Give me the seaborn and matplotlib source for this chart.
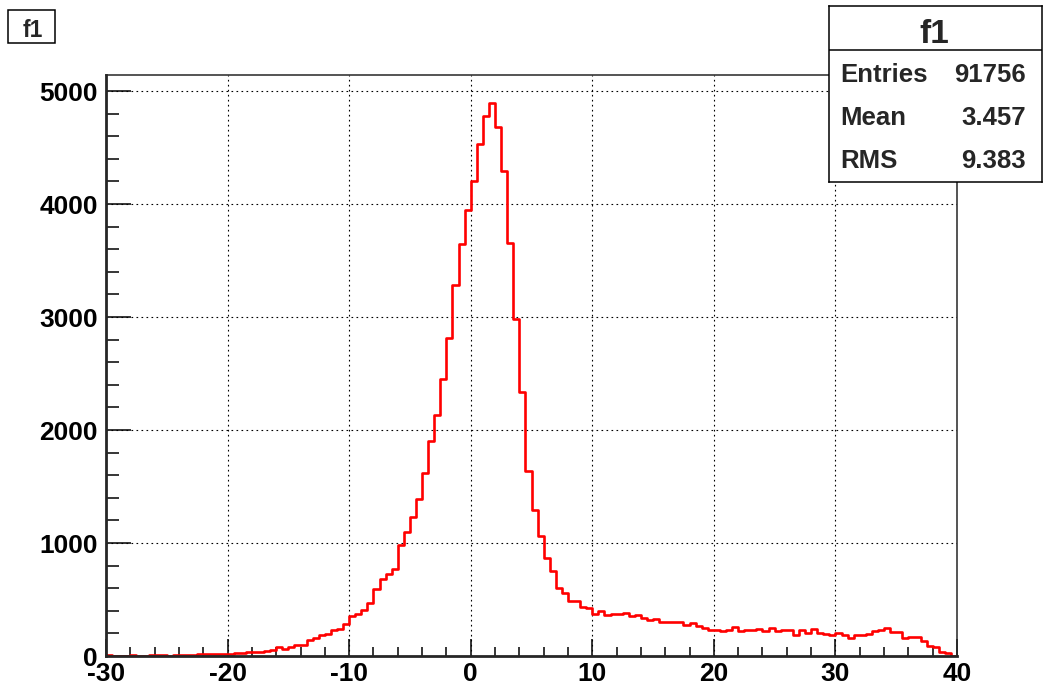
import numpy as np
import pandas as pd
import matplotlib
matplotlib.use('Agg')
import matplotlib.pyplot as plt
import seaborn as sns
from matplotlib.ticker import MultipleLocator
from matplotlib.patches import Rectangle

sns.set_style('ticks')
# ROOT-like look: bold Helvetica-ish text, inward ticks
plt.rcParams['font.family'] = ['Liberation Sans', 'DejaVu Sans']
plt.rcParams['font.weight'] = 'bold'
plt.rcParams['axes.unicode_minus'] = False

# histogram f1, 140 bins of width 0.5 from -30 to 40
x_min = -30
x_max = 40
bin_width = 0.5

counts_far_left = [8, 3, 2, 3, 10, 3, 2, 10, 11, 9, 3, 11, 12, 13, 13, 15,
                   20, 18, 21, 22, 22, 24, 30, 33, 35, 38]            # -30 .. -17
counts_left = [42, 50, 80, 65, 80, 97, 100, 144, 162, 183, 197, 233, 236,
               286, 350, 374, 409, 471, 595, 678, 730, 772]            # -17 .. -6
counts_rise = [985, 1100, 1233, 1390, 1617, 1907, 2133, 2450, 2813, 3283,
               3650, 3950]                                             # -6 .. 0
counts_peak = [4200, 4527, 4783, 4893, 4683, 4293, 3657, 2983, 2340, 1640,
               1290, 1060, 867, 750]                                   # 0 .. 7
counts_tail = [603, 558, 484, 490, 434, 422, 369, 395, 363, 369, 372, 380,
               351, 360, 336, 322, 330, 301, 298, 301, 298, 274, 289, 268,
               248, 230, 233, 224, 227, 260, 224, 230]                 # 7 .. 23
counts_end = [227, 242, 221, 251, 221, 233, 233, 186, 227, 206, 242, 201,
              198, 183, 201, 183, 162, 189, 189, 198, 221, 233, 251, 209,
              209, 162, 165, 165, 130, 91, 83, 32, 27, 3]              # 23 .. 40

stat_names = ['Entries', 'Mean', 'RMS']
stat_values = ['91756', '3.457', '9.383']
hist_name = 'f1'

counts = counts_far_left + counts_left + counts_rise + counts_peak + counts_tail + counts_end
edges = np.arange(x_min, x_max + bin_width / 2, bin_width)
centers = edges[:-1] + bin_width / 2
df = pd.DataFrame({'x': centers, 'n': counts})

W, H = 1052, 696
fig = plt.figure(figsize=(W / 100, H / 100), dpi=100)
ax = fig.add_axes([106 / W, 1 - 656 / H, 851 / W, 581 / H])

sns.histplot(data=df, x='x', weights='n', bins=edges.tolist(), element='step',
             fill=False, color='red', linewidth=1.9, ax=ax)

ax.set_xlim(x_min, x_max)
ax.set_ylim(0, 5142)
ax.set_xlabel('')
ax.set_ylabel('')

ax.xaxis.set_major_locator(MultipleLocator(10))
ax.xaxis.set_minor_locator(MultipleLocator(2))
ax.yaxis.set_major_locator(MultipleLocator(1000))
ax.yaxis.set_minor_locator(MultipleLocator(200))
ax.tick_params(which='both', direction='in', top=False, right=False,
               width=1.1, colors='black', labelsize=19)
ax.tick_params(axis='x', which='major', length=12.5, pad=4)
ax.tick_params(axis='x', which='minor', length=6.5)
ax.tick_params(axis='y', which='major', length=18, pad=6)
ax.tick_params(axis='y', which='minor', length=9)
for lab in ax.get_xticklabels() + ax.get_yticklabels():
    lab.set_fontweight('bold')

ax.grid(True, which='major', color='black', linestyle=(0, (1.5, 3)), linewidth=0.8)

for side in ['left', 'bottom']:
    ax.spines[side].set_linewidth(2.0)
for side in ['top', 'right']:
    ax.spines[side].set_linewidth(1.1)
    ax.spines[side].set_visible(True)

# stats box (top right)
bx0, by0, bx1, by1 = 829, 6, 1042, 182
bax = fig.add_axes([bx0 / W, 1 - by1 / H, (bx1 - bx0) / W, (by1 - by0) / H])
bax.set_xlim(bx0, bx1)
bax.set_ylim(by1, by0)
bax.set_xticks([])
bax.set_yticks([])
for s in bax.spines.values():
    s.set_linewidth(1.1)
    s.set_color('black')
bax.axhline(50, color='black', linewidth=1.1)
bax.text(934, 43, hist_name, ha='center', va='baseline', fontsize=24, fontweight='bold')
for name, val, base in zip(stat_names, stat_values, [82, 125, 168]):
    bax.text(840, base, name, ha='left', va='baseline', fontsize=18.5, fontweight='bold')
    bax.text(1026, base, val, ha='right', va='baseline', fontsize=18.5, fontweight='bold')

# title box (top left)
fig.patches.append(Rectangle((8 / W, 1 - 43 / H), 47 / W, 33 / H, transform=fig.transFigure,
                             facecolor='white', edgecolor='black', linewidth=1.1))
fig.text(33 / W, 1 - 37 / H, hist_name, ha='center', va='baseline', fontsize=16.5,
         fontweight='bold')

plt.savefig('out.png', dpi=100)
